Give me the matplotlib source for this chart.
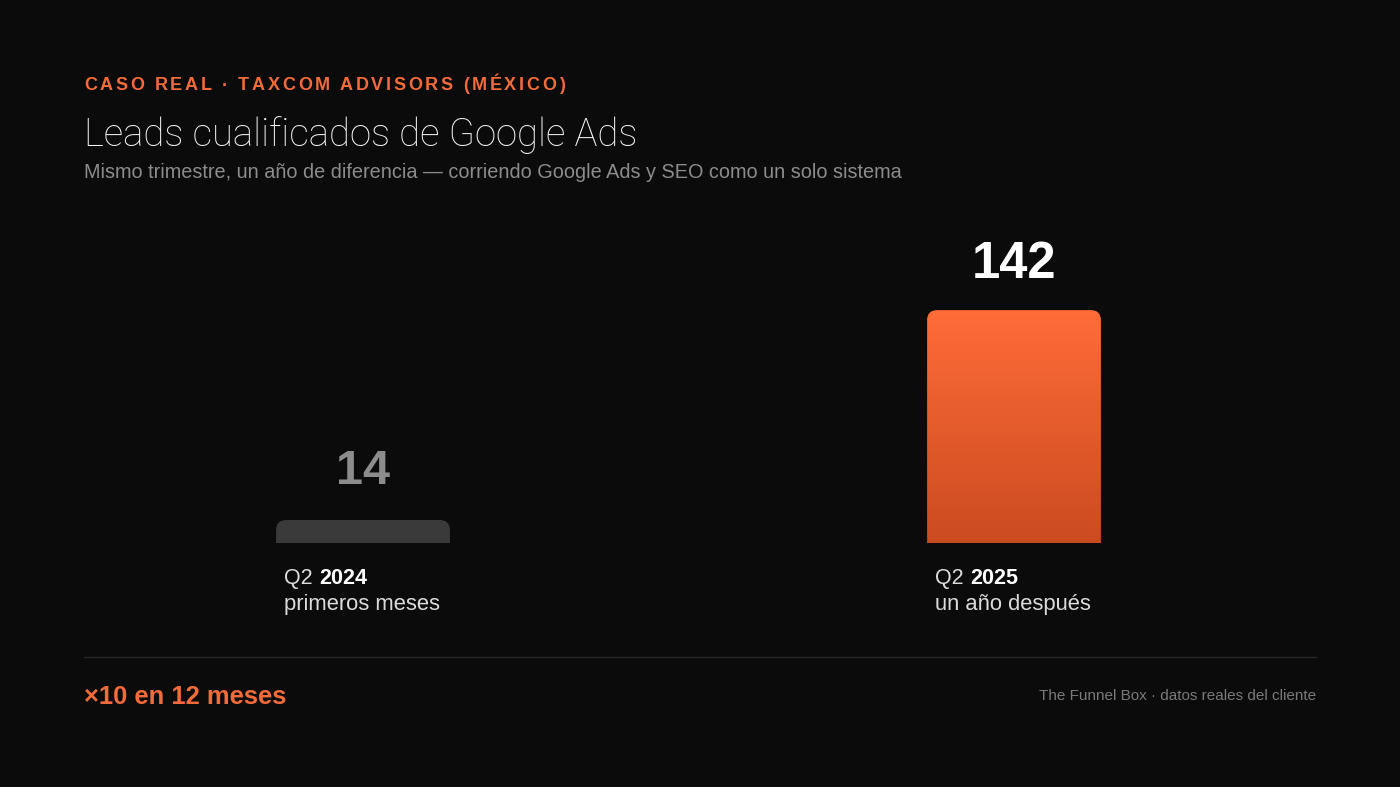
import matplotlib.pyplot as plt
import numpy as np
from matplotlib.path import Path
from matplotlib.patches import PathPatch

# --- Data ---
periods = ["Q2", "Q2"]
years = ["2024", "2025"]
notes = ["primeros meses", "un año después"]
leads = [14, 142]

# --- Style ---
BG = "#0b0b0b"
ORANGE = "#f26b3a"
W, H = 1400, 787

plt.rcParams['font.family'] = ['Liberation Sans', 'DejaVu Sans']

fig = plt.figure(figsize=(14, 7.87), dpi=100, facecolor=BG)
renderer = fig.canvas.get_renderer()


def fy(py):
    return 1 - py / H


def spaced_text(x_px, y_px, s, spacing_px, **kw):
    # draw text char by char to get letter spacing
    x = x_px
    for ch in s:
        t = fig.text(x / W, fy(y_px), ch, va='center', ha='left', **kw)
        w = t.get_window_extent(renderer).width
        x += w + spacing_px
    return x


# --- Header texts ---
spaced_text(84, 86, "CASO REAL · TAXCOM ADVISORS (MÉXICO)", 2.65,
            color=ORANGE, fontsize=13, fontweight='bold')
fig.text(84 / W, fy(135.5), "Leads cualificados de Google Ads", color="#f4f4f4",
         fontsize=27.6, fontweight='light', va='center', ha='left',
         family=['Roboto', 'Liberation Sans', 'DejaVu Sans'])
fig.text(84 / W, fy(173), "Mismo trimestre, un año de diferencia — corriendo Google Ads y SEO como un solo sistema",
         color="#8c8c8c", fontsize=14.3, va='center', ha='left')

# --- Bars ---
ax = fig.add_axes([37.5 / W, 244 / H, 1302 / W, 328 / H])
ax.set_xlim(-0.5, 1.5)
ax.set_ylim(0, 200)
ax.axis('off')
ax.set_facecolor(BG)

xs = np.arange(len(leads))
bars = ax.bar(xs, leads, width=0.267, color='none', edgecolor='none')

rx = 10 / 651
ry = 10 * 200 / 328


def rounded_top(x0, x1, h):
    verts = [(x0, 0), (x0, h - ry), (x0, h), (x0 + rx, h), (x1 - rx, h),
             (x1, h), (x1, h - ry), (x1, 0), (x0, 0)]
    codes = [Path.MOVETO, Path.LINETO, Path.CURVE3, Path.CURVE3, Path.LINETO,
             Path.CURVE3, Path.CURVE3, Path.LINETO, Path.CLOSEPOLY]
    return Path(verts, codes)


for i, rect in enumerate(bars):
    x0 = rect.get_x()
    x1 = x0 + rect.get_width()
    h = rect.get_height()
    path = rounded_top(x0, x1, h)
    if i == 0:
        ax.add_patch(PathPatch(path, facecolor="#3a3a3a", edgecolor='none'))
    else:
        patch = PathPatch(path, facecolor='none', edgecolor='none')
        ax.add_patch(patch)
        top = np.array([0xff, 0x6c, 0x38]) / 255
        bot = np.array([0xcb, 0x4b, 0x21]) / 255
        t = np.linspace(0, 1, 256)[:, None]
        grad = (top * (1 - t) + bot * t)[:, None, :]
        im = ax.imshow(grad, extent=(x0, x1, 0, h), aspect='auto',
                       origin='upper', zorder=2)
        im.set_clip_path(patch)

    # value label
    ax.annotate(str(leads[i]), xy=(xs[i], leads[i]), xytext=(0, 35 if i == 0 else 33),
                textcoords='offset points', ha='center', va='center',
                fontsize=35 if i == 0 else 36.5, fontweight='bold',
                color="#8c8c8c" if i == 0 else "white")

    # category labels
    q = ax.annotate(periods[i] + " ", xy=(x0, 0), xytext=(6, -25.5),
                    textcoords='offset points', ha='left', va='center',
                    fontsize=15.5, color="#dcdcdc")
    ax.annotate(years[i], xy=(1, 0.5), xycoords=q, xytext=(0, 0),
                textcoords='offset points', ha='left', va='center',
                fontsize=15.5, fontweight='bold', color="white")
    ax.annotate(notes[i], xy=(x0, 0), xytext=(6, -44),
                textcoords='offset points', ha='left', va='center',
                fontsize=15.8, color="#dcdcdc")

# --- Footer ---
fig.add_artist(plt.Line2D([84 / W, 1316 / W], [fy(657), fy(657)],
                          color="#262626", linewidth=1))
fig.text(84 / W, fy(697), "×10 en 12 meses", color=ORANGE, fontsize=18.4,
         fontweight='bold', va='center', ha='left')
fig.text(1316 / W, fy(696), "The Funnel Box · datos reales del cliente",
         color="#7a7a7a", fontsize=11, va='center', ha='right')

fig.savefig("out.png", dpi=100, facecolor=BG)
